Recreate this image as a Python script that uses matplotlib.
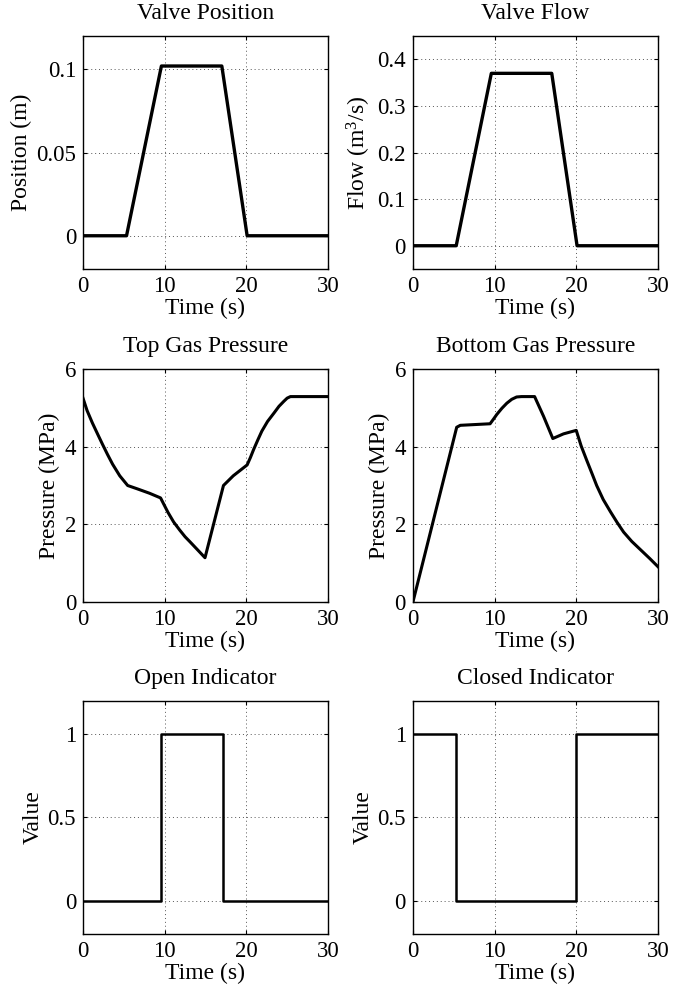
"""Valve test results: six panels in a MATLAB-like style."""

import matplotlib
matplotlib.use("Agg")
import matplotlib.pyplot as plt

plt.rcParams["font.family"] = ["Liberation Serif", "DejaVu Serif"]
plt.rcParams["mathtext.fontset"] = "custom"
plt.rcParams["mathtext.rm"] = "Liberation Serif"
plt.rcParams["mathtext.it"] = "Liberation Serif:italic"
plt.rcParams["font.size"] = 17

# Valve position (m)
pos_t = [0, 5.33, 9.6, 17.0, 20.1, 30]
pos_v = [0, 0, 0.102, 0.102, 0, 0]

# Valve flow (m^3/s)
flow_t = [0, 5.3, 9.6, 17.0, 20.1, 30]
flow_v = [0, 0, 0.37, 0.37, 0, 0]

# Top gas pressure (MPa)
top_t = [0, 0.5, 1.15, 1.8, 2.39, 3.0, 3.62, 4.5, 5.47, 6.7, 8.15, 9.5,
         10.4, 11.1, 11.85, 12.5, 13.1, 14.0, 14.94,
         17.2, 18.4, 20.1, 20.5, 20.9, 21.4, 21.9, 22.6, 23.4, 24.0, 24.6,
         25.0, 25.4, 30]
top_p = [5.25, 4.93, 4.61, 4.32, 4.06, 3.80, 3.55, 3.25, 3.0, 2.91, 2.80, 2.68,
         2.31, 2.06, 1.85, 1.68, 1.55, 1.35, 1.14,
         3.0, 3.25, 3.53, 3.72, 3.93, 4.17, 4.40, 4.65, 4.87, 5.04, 5.17,
         5.25, 5.29, 5.29]

# Bottom gas pressure (MPa)
bot_t = [0, 5.36, 5.8, 9.45, 9.9, 10.27, 10.9, 11.5, 12.1, 12.7, 13.3, 14.9,
         16.0, 17.13, 18.44, 20.0, 20.6, 21.3, 22.0, 22.5, 23.3, 24.2, 25.0,
         25.8, 26.8, 27.85, 29.0, 30]
bot_p = [0, 4.50, 4.55, 4.59, 4.72, 4.83, 4.99, 5.12, 5.22, 5.28, 5.29, 5.29,
         4.78, 4.21, 4.33, 4.42, 4.02, 3.64, 3.27, 3.0, 2.64, 2.32, 2.05,
         1.80, 1.56, 1.35, 1.12, 0.91]

# Open / closed indicators
open_t = [0, 9.6, 9.6, 17.1, 17.1, 30]
open_v = [0, 0, 1, 1, 0, 0]
closed_t = [0, 5.3, 5.3, 20.0, 20.0, 30]
closed_v = [1, 1, 0, 0, 1, 1]

x_ticks = [0, 10, 20, 30]

fig = plt.figure(figsize=(6.94, 9.88), dpi=100)

left_x = [0.1196, 0.595]
row_y = [0.7277, 0.3907, 0.0547]
w, h = 0.353, 0.2358


def make_axes(col, row):
    ax = fig.add_axes([left_x[col], row_y[row], w, h])
    ax.set_xlim(0, 30)
    ax.set_xticks(x_ticks)
    ax.grid(True, color="#555555", linestyle=(0, (1, 3)), linewidth=0.7)
    ax.tick_params(direction="in", length=3, width=0.8, top=True, right=True,
                   pad=5, labelsize=16.5)
    for sp in ax.spines.values():
        sp.set_linewidth(1.0)
    ax.set_xlabel("Time (s)", labelpad=1)
    return ax


panels = [
    (0, 0, pos_t, pos_v, "Valve Position", "Position (m)", (-0.02, 0.12),
     [0, 0.05, 0.1], ["0", "0.05", "0.1"], 2.4),
    (1, 0, flow_t, flow_v, "Valve Flow", "Flow (m$^3$/s)", (-0.05, 0.45),
     [0, 0.1, 0.2, 0.3, 0.4], ["0", "0.1", "0.2", "0.3", "0.4"], 2.4),
    (0, 1, top_t, top_p, "Top Gas Pressure", "Pressure (MPa)", (0, 6),
     [0, 2, 4, 6], ["0", "2", "4", "6"], 2.2),
    (1, 1, bot_t, bot_p, "Bottom Gas Pressure", "Pressure (MPa)", (0, 6),
     [0, 2, 4, 6], ["0", "2", "4", "6"], 2.2),
    (0, 2, open_t, open_v, "Open Indicator", "Value", (-0.2, 1.2),
     [0, 0.5, 1], ["0", "0.5", "1"], 1.8),
    (1, 2, closed_t, closed_v, "Closed Indicator", "Value", (-0.2, 1.2),
     [0, 0.5, 1], ["0", "0.5", "1"], 1.8),
]

for col, row, t, v, title, ylabel, ylim, yticks, ylabels, lw in panels:
    ax = make_axes(col, row)
    ax.plot(t, v, color="black", linewidth=lw, solid_joinstyle="round")
    ax.set_ylim(*ylim)
    ax.set_yticks(yticks)
    ax.set_yticklabels(ylabels)
    ax.set_title(title, fontsize=17, pad=12)
    ax.set_ylabel(ylabel, labelpad=3)

fig.savefig("out.png", dpi=100)
